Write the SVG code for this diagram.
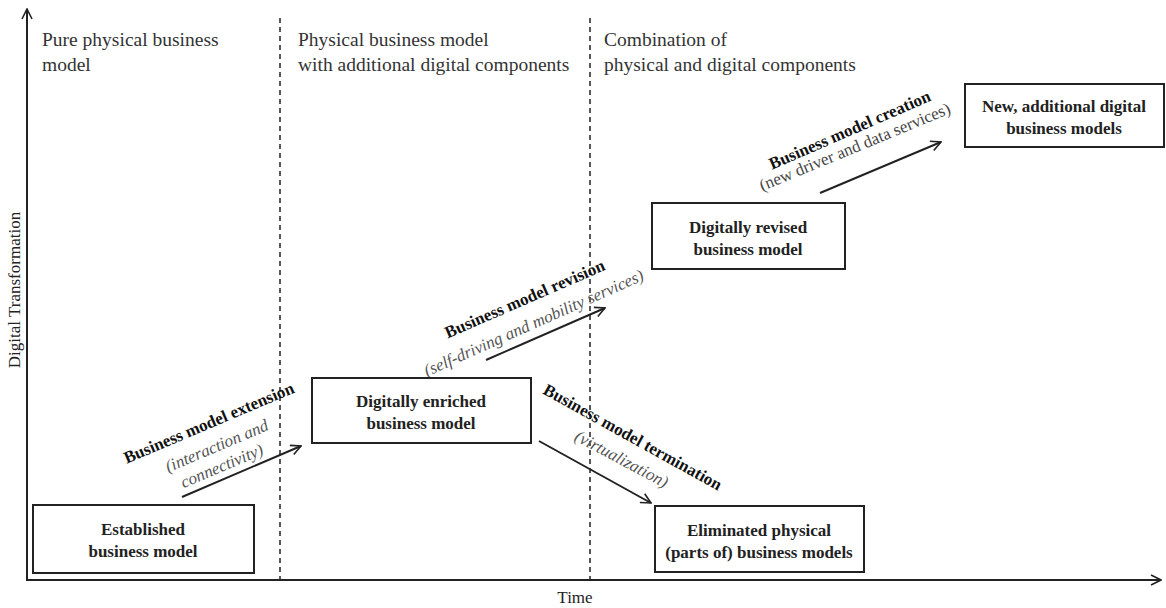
<svg xmlns="http://www.w3.org/2000/svg" width="1166" height="608" viewBox="0 0 1166 608">
<defs>
<marker id="ah" viewBox="0 0 12 12" refX="11" refY="6" markerWidth="12" markerHeight="12" markerUnits="userSpaceOnUse" orient="auto">
<path d="M1,1 L11,6 L1,11" fill="none" stroke="#222" stroke-width="1.6"/>
</marker>
</defs>
<style>
text{font-family:"Liberation Serif","Times New Roman",serif;fill:#222}
.ax{font-size:17px}
.hdr{font-size:19.5px;fill:#333}
.box{fill:#fff;stroke:#222;stroke-width:2}
.bt{font-size:17px;font-weight:bold;text-anchor:middle}
.lb{font-size:17px;font-weight:bold;text-anchor:middle;fill:#111}
.li{font-size:17px;font-style:italic;text-anchor:middle;fill:#555}
.ln{font-size:17px;text-anchor:middle;fill:#444}
.arr{stroke:#222;stroke-width:2;fill:none;marker-end:url(#ah)}
.dash{stroke:#222;stroke-width:1.5;stroke-dasharray:5,4}
</style>
<rect width="1166" height="608" fill="#fff"/>
<g id="axes">
<line x1="27" y1="580" x2="27" y2="9" class="arr"/>
<line x1="26" y1="580" x2="1161" y2="580" class="arr"/>
<text x="15" y="290" class="ax" text-anchor="middle" transform="rotate(-90 15 290)" dy="5">Digital Transformation</text>
<text x="575" y="603" class="ax" text-anchor="middle">Time</text>
</g>
<g id="phases">
<line x1="280" y1="18" x2="280" y2="580" class="dash"/>
<line x1="590" y1="18" x2="590" y2="580" class="dash"/>
<text x="42" y="46" class="hdr">Pure physical business</text>
<text x="42" y="71" class="hdr">model</text>
<text x="298" y="46" class="hdr">Physical business model</text>
<text x="298" y="71" class="hdr">with additional digital components</text>
<text x="604" y="46" class="hdr">Combination of</text>
<text x="604" y="71" class="hdr">physical and digital components</text>
</g>
<g id="connectors">
<line x1="182" y1="497" x2="301" y2="446" class="arr"/>
<line x1="486" y1="360" x2="605" y2="308" class="arr"/>
<line x1="539" y1="441" x2="651" y2="503" class="arr"/>
<line x1="820" y1="193" x2="941" y2="142" class="arr"/>
<text class="lb" transform="translate(211,428) rotate(-23)">Business model extension</text>
<text class="li" transform="translate(219,451) rotate(-23)">(interaction and</text>
<text class="li" transform="translate(224,471) rotate(-23)">connectivity)</text>
<text class="lb" transform="translate(527,304) rotate(-23.5)">Business model revision</text>
<text class="li" transform="translate(536,328) rotate(-24)">(self-driving and mobility services)</text>
<text class="lb" transform="translate(630,442) rotate(29)">Business model termination</text>
<text class="li" transform="translate(619,464) rotate(28)">(virtualization)</text>
<text class="lb" transform="translate(852,135) rotate(-23.5)">Business model creation</text>
<text class="ln" transform="translate(857,152) rotate(-22.5)">(new driver and data services)</text>
</g>
<g id="n-established">
<rect x="33" y="505" width="221" height="68" class="box"/>
<text x="143" y="535" class="bt">Established</text>
<text x="143" y="557" class="bt">business model</text>
</g>
<g id="n-enriched">
<rect x="312" y="378" width="219" height="65" class="box"/>
<text x="421" y="407" class="bt">Digitally enriched</text>
<text x="421" y="429" class="bt">business model</text>
</g>
<g id="n-revised">
<rect x="652" y="203" width="193" height="66" class="box"/>
<text x="748" y="233" class="bt">Digitally revised</text>
<text x="748" y="255" class="bt">business model</text>
</g>
<g id="n-eliminated">
<rect x="655" y="506" width="209" height="66" class="box"/>
<text x="759" y="536" class="bt">Eliminated physical</text>
<text x="759" y="558" class="bt">(parts of) business models</text>
</g>
<g id="n-new">
<rect x="965" y="84" width="199" height="63" class="box"/>
<text x="1064" y="112" class="bt">New, additional digital</text>
<text x="1064" y="134" class="bt">business models</text>
</g>
</svg>
